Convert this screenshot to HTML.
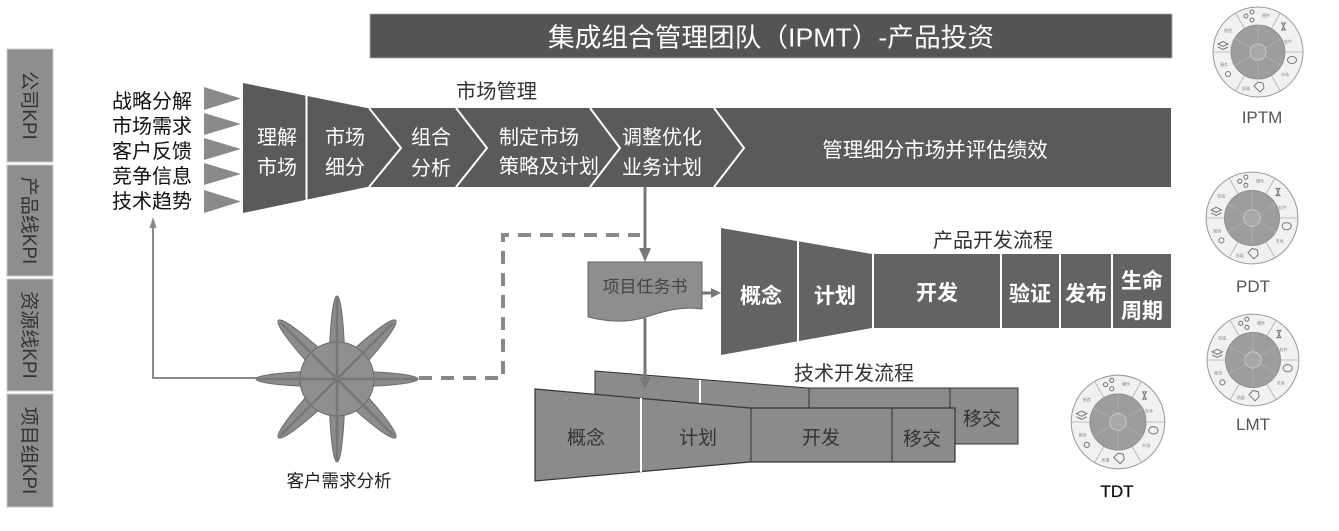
<!DOCTYPE html>
<html><head><meta charset="utf-8"><style>
html,body{margin:0;padding:0;background:#fff;}
svg{display:block;}
text{font-family:"Liberation Sans","Noto Sans CJK SC",sans-serif;}
</style></head><body>
<svg width="1339" height="531" viewBox="0 0 1339 531" xmlns="http://www.w3.org/2000/svg">
<rect x="0" y="0" width="1339" height="531" fill="#fff"/>

<!-- KPI column -->
<g fill="#8e8e8e" stroke="#c8c8c8" stroke-width="1">
<rect x="7" y="49" width="46" height="113"/>
<rect x="7" y="165" width="46" height="111"/>
<rect x="7" y="279" width="46" height="112"/>
<rect x="7" y="394" width="46" height="113"/>
</g>
<g fill="#333" font-size="19" text-anchor="middle">
<text transform="translate(23,105.5) rotate(90)">公司KPI</text>
<text transform="translate(23,220.5) rotate(90)">产品线KPI</text>
<text transform="translate(23,335) rotate(90)">资源线KPI</text>
<text transform="translate(23,450.5) rotate(90)">项目组KPI</text>
</g>

<!-- Top bar -->
<rect x="370" y="14" width="802" height="44" fill="#545454" stroke="#aaa" stroke-width="0.8"/>
<text x="771" y="46.5" font-size="26" fill="#fff" text-anchor="middle" textLength="446" lengthAdjust="spacingAndGlyphs">集成组合管理团队（IPMT）-产品投资</text>

<text x="456" y="98" font-size="20" fill="#333" textLength="81" lengthAdjust="spacingAndGlyphs">市场管理</text>

<!-- left list -->
<g font-size="20" fill="#111">
<text x="112" y="108">战略分解</text>
<text x="112" y="133">市场需求</text>
<text x="112" y="158">客户反馈</text>
<text x="112" y="183">竞争信息</text>
<text x="112" y="208">技术趋势</text>
</g>
<g fill="#8a8a8a">
<polygon points="204,87 241,98.5 204,110"/>
<polygon points="204,113 241,124 204,135"/>
<polygon points="204,138 241,149 204,160"/>
<polygon points="204,163 241,174 204,185"/>
<polygon points="204,190 241,201.5 204,213"/>
</g>

<!-- Market band -->
<polygon points="243,83 367,108 1171,108 1171,187 367,187 243,213" fill="#5a5a5a"/>
<g stroke="#fff" stroke-width="2" fill="none">
<line x1="306.5" y1="95" x2="306.5" y2="201"/>
<polyline points="369,108 401,148 369,187"/>
<polyline points="456,108 487,148 456,187"/>
<polyline points="590,108 620,148 590,187"/>
<polyline points="714,108 744,148 714,187"/>
</g>
<g font-size="20" fill="#fff" text-anchor="middle">
<text x="277" y="144">理解</text><text x="277" y="174">市场</text>
<text x="345" y="144">市场</text><text x="345" y="174">细分</text>
<text x="431" y="144">组合</text><text x="431" y="175">分析</text>
<text x="539" y="144">制定市场</text><text x="549" y="173">策略及计划</text>
<text x="662" y="144">调整优化</text><text x="662" y="174">业务计划</text>
<text x="935" y="157" font-size="20.5">管理细分市场并评估绩效</text>
</g>

<!-- arrow band -> doc -->
<line x1="645" y1="187" x2="645" y2="250" stroke="#777" stroke-width="3"/>
<polygon points="639,248 651,248 645,262" fill="#777"/>

<!-- dashed connector -->
<path d="M419,378 H503 V235 H640" fill="none" stroke="#888" stroke-width="4" stroke-dasharray="13 9"/>

<!-- star connector to left list -->
<path d="M262,378 H153 V224" fill="none" stroke="#8a8a8a" stroke-width="2"/>
<polygon points="149.5,228 156.5,228 153,217" fill="#8a8a8a"/>

<!-- star -->
<g fill="#8c8c8c" stroke="#6a6a6a" stroke-width="1">
<ellipse cx="337" cy="379" rx="81" ry="8" transform="rotate(0 337 379)"/>
<ellipse cx="337" cy="379" rx="83" ry="8" transform="rotate(90 337 379)"/>
<ellipse cx="337" cy="379" rx="83" ry="10" transform="rotate(45 337 379)"/>
<ellipse cx="337" cy="379" rx="83" ry="10" transform="rotate(-45 337 379)"/>
<circle cx="337" cy="379" r="37" fill="#8f8f8f"/>
</g>
<g stroke="#777" stroke-width="2.5">
<line x1="258" y1="379" x2="416" y2="379"/>
<line x1="337" y1="298" x2="337" y2="460"/>
<line x1="281" y1="323" x2="393" y2="435"/>
<line x1="393" y1="323" x2="281" y2="435"/>
</g>
<text x="339" y="487" font-size="17.5" fill="#222" text-anchor="middle">客户需求分析</text>

<!-- Document -->
<path d="M588,262 H702 V309 C682,306 664,311 646,317 C628,323 608,322 588,317 Z" fill="#8e8e8e" stroke="#666" stroke-width="1"/>
<text x="645" y="292.5" font-size="17" fill="#444" text-anchor="middle">项目任务书</text>
<line x1="702" y1="293" x2="713" y2="293" stroke="#777" stroke-width="3"/>
<polygon points="711,288 711,298 721,293" fill="#777"/>

<!-- Product funnel -->
<polygon points="721,228 872,254 1171,254 1171,328 872,328 721,355" fill="#636363"/>
<g stroke="#fff" stroke-width="2">
<line x1="798" y1="240" x2="798" y2="344"/>
<line x1="873" y1="253" x2="873" y2="329"/>
<line x1="1001" y1="254" x2="1001" y2="328"/>
<line x1="1060" y1="254" x2="1060" y2="328"/>
<line x1="1112" y1="254" x2="1112" y2="328"/>
</g>
<text x="993" y="247" font-size="20" fill="#333" text-anchor="middle">产品开发流程</text>
<g font-size="21" font-weight="bold" fill="#fff" text-anchor="middle">
<text x="761" y="303">概念</text>
<text x="835" y="303">计划</text>
<text x="937" y="300">开发</text>
<text x="1030" y="301">验证</text>
<text x="1086" y="301">发布</text>
<text x="1142" y="288">生命</text>
<text x="1142" y="318">周期</text>
</g>

<!-- Tech back layer -->
<polygon points="595,371 808,388 1018,388 1018,444 700,444 595,440" fill="#8b8b8b" stroke="#333" stroke-width="1"/>
<line x1="700" y1="380" x2="700" y2="404" stroke="#fff" stroke-width="2"/>
<line x1="809" y1="388" x2="809" y2="408" stroke="#333" stroke-width="1"/>
<line x1="950" y1="388" x2="950" y2="408" stroke="#333" stroke-width="1"/>
<text x="982" y="425" font-size="19" fill="#333" text-anchor="middle">移交</text>
<text x="854" y="380" font-size="20" fill="#333" text-anchor="middle">技术开发流程</text>

<!-- doc -> tech arrow -->
<line x1="645" y1="318" x2="645" y2="380" stroke="#777" stroke-width="3"/>
<polygon points="639,377 651,377 645,389" fill="#777"/>

<!-- Tech front layer -->
<polygon points="535,389 750,408 955,408 955,462 750,462 535,481" fill="#8b8b8b" stroke="#333" stroke-width="1.2"/>
<line x1="641" y1="398" x2="641" y2="472" stroke="#fff" stroke-width="2"/>
<line x1="751" y1="408" x2="751" y2="462" stroke="#333" stroke-width="1"/>
<line x1="892" y1="408" x2="892" y2="462" stroke="#333" stroke-width="1"/>
<g font-size="19" fill="#333" text-anchor="middle">
<text x="586" y="444">概念</text>
<text x="698" y="444">计划</text>
<text x="821" y="444">开发</text>
<text x="922" y="445">移交</text>
</g>

<!-- Team circles -->
<g id="c1" transform="translate(1258,52)">
<circle r="45" fill="#f1f1f1" stroke="#9a9a9a" stroke-width="1"/>
<g stroke="#b0b0b0" stroke-width="0.8">
<line x1="-13.5" y1="-23.4" x2="-22.5" y2="-39"/><line x1="13.5" y1="-23.4" x2="22.5" y2="-39"/>
<line x1="27" y1="0" x2="45" y2="0"/><line x1="13.5" y1="23.4" x2="22.5" y2="39"/>
<line x1="-13.5" y1="23.4" x2="-22.5" y2="39"/><line x1="-27" y1="0" x2="-45" y2="0"/>
</g>
<circle r="27" fill="#9d9d9d" stroke="#8a8a8a" stroke-width="0.8"/>
<g stroke="#b5b5b5" stroke-width="0.6">
<line x1="0" y1="-8" x2="0" y2="-27"/><line x1="7" y1="4" x2="23.4" y2="13.5"/><line x1="-7" y1="4" x2="-23.4" y2="13.5"/>
<line x1="7" y1="-4" x2="23.4" y2="-13.5"/><line x1="-7" y1="-4" x2="-23.4" y2="-13.5"/><line x1="0" y1="8" x2="0" y2="27"/>
</g>
<circle r="8" fill="#a8a8a8" stroke="#d0d0d0" stroke-width="0.8"/>
<g fill="none" stroke="#777" stroke-width="1">
<circle cx="-12" cy="-36" r="2"/><circle cx="-6" cy="-40" r="2"/><circle cx="-6" cy="-32" r="2"/>
<path d="M23,-29 h5 M23,-22 h5 M24,-29 l3,7 M27,-29 l-3,7"/>
<ellipse cx="34" cy="8" rx="4.5" ry="3.5"/>
<path d="M-4,34 l4,-4 l5,1 l1,5 l-4,4 z"/>
<circle cx="-30" cy="22" r="2.5"/>
<path d="M-40,-8 l5,-2.5 l5,2.5 l-5,2.5 z M-40,-5 l5,2.5 l5,-2.5"/>
</g>
<g font-size="4" fill="#888" text-anchor="middle">
<text x="8" y="-35">硬件</text><text x="30" y="-9">软件</text><text x="27" y="24">市场</text>
<text x="-12" y="38">质量</text><text x="-34" y="14">服务</text><text x="-30" y="-20">制造</text>
</g>
</g>

<g transform="translate(1252,218) scale(1.02)">
<circle r="45" fill="#f1f1f1" stroke="#9a9a9a" stroke-width="1"/>
<g stroke="#b0b0b0" stroke-width="0.8">
<line x1="-13.5" y1="-23.4" x2="-22.5" y2="-39"/><line x1="13.5" y1="-23.4" x2="22.5" y2="-39"/>
<line x1="27" y1="0" x2="45" y2="0"/><line x1="13.5" y1="23.4" x2="22.5" y2="39"/>
<line x1="-13.5" y1="23.4" x2="-22.5" y2="39"/><line x1="-27" y1="0" x2="-45" y2="0"/>
</g>
<circle r="27" fill="#9d9d9d" stroke="#8a8a8a" stroke-width="0.8"/>
<g stroke="#b5b5b5" stroke-width="0.6">
<line x1="0" y1="-8" x2="0" y2="-27"/><line x1="7" y1="4" x2="23.4" y2="13.5"/><line x1="-7" y1="4" x2="-23.4" y2="13.5"/>
<line x1="7" y1="-4" x2="23.4" y2="-13.5"/><line x1="-7" y1="-4" x2="-23.4" y2="-13.5"/><line x1="0" y1="8" x2="0" y2="27"/>
</g>
<circle r="8" fill="#a8a8a8" stroke="#d0d0d0" stroke-width="0.8"/>
<g fill="none" stroke="#777" stroke-width="1">
<circle cx="-12" cy="-36" r="2"/><circle cx="-6" cy="-40" r="2"/><circle cx="-6" cy="-32" r="2"/>
<path d="M23,-29 h5 M23,-22 h5 M24,-29 l3,7 M27,-29 l-3,7"/>
<ellipse cx="34" cy="8" rx="4.5" ry="3.5"/>
<path d="M-4,34 l4,-4 l5,1 l1,5 l-4,4 z"/>
<circle cx="-30" cy="22" r="2.5"/>
<path d="M-40,-8 l5,-2.5 l5,2.5 l-5,2.5 z M-40,-5 l5,2.5 l5,-2.5"/>
</g>
<g font-size="4" fill="#888" text-anchor="middle">
<text x="8" y="-35">硬件</text><text x="30" y="-9">软件</text><text x="27" y="24">市场</text>
<text x="-12" y="38">质量</text><text x="-34" y="14">服务</text><text x="-30" y="-20">制造</text>
</g>
</g>

<g transform="translate(1253,360) scale(1.02)">
<circle r="45" fill="#f1f1f1" stroke="#9a9a9a" stroke-width="1"/>
<g stroke="#b0b0b0" stroke-width="0.8">
<line x1="-13.5" y1="-23.4" x2="-22.5" y2="-39"/><line x1="13.5" y1="-23.4" x2="22.5" y2="-39"/>
<line x1="27" y1="0" x2="45" y2="0"/><line x1="13.5" y1="23.4" x2="22.5" y2="39"/>
<line x1="-13.5" y1="23.4" x2="-22.5" y2="39"/><line x1="-27" y1="0" x2="-45" y2="0"/>
</g>
<circle r="27" fill="#9d9d9d" stroke="#8a8a8a" stroke-width="0.8"/>
<g stroke="#b5b5b5" stroke-width="0.6">
<line x1="0" y1="-8" x2="0" y2="-27"/><line x1="7" y1="4" x2="23.4" y2="13.5"/><line x1="-7" y1="4" x2="-23.4" y2="13.5"/>
<line x1="7" y1="-4" x2="23.4" y2="-13.5"/><line x1="-7" y1="-4" x2="-23.4" y2="-13.5"/><line x1="0" y1="8" x2="0" y2="27"/>
</g>
<circle r="8" fill="#a8a8a8" stroke="#d0d0d0" stroke-width="0.8"/>
<g fill="none" stroke="#777" stroke-width="1">
<circle cx="-12" cy="-36" r="2"/><circle cx="-6" cy="-40" r="2"/><circle cx="-6" cy="-32" r="2"/>
<path d="M23,-29 h5 M23,-22 h5 M24,-29 l3,7 M27,-29 l-3,7"/>
<ellipse cx="34" cy="8" rx="4.5" ry="3.5"/>
<path d="M-4,34 l4,-4 l5,1 l1,5 l-4,4 z"/>
<circle cx="-30" cy="22" r="2.5"/>
<path d="M-40,-8 l5,-2.5 l5,2.5 l-5,2.5 z M-40,-5 l5,2.5 l5,-2.5"/>
</g>
<g font-size="4" fill="#888" text-anchor="middle">
<text x="8" y="-35">硬件</text><text x="30" y="-9">软件</text><text x="27" y="24">市场</text>
<text x="-12" y="38">质量</text><text x="-34" y="14">服务</text><text x="-30" y="-20">制造</text>
</g>
</g>

<g transform="translate(1118,422) scale(1.04)">
<circle r="45" fill="#f1f1f1" stroke="#9a9a9a" stroke-width="1"/>
<g stroke="#b0b0b0" stroke-width="0.8">
<line x1="-13.5" y1="-23.4" x2="-22.5" y2="-39"/><line x1="13.5" y1="-23.4" x2="22.5" y2="-39"/>
<line x1="27" y1="0" x2="45" y2="0"/><line x1="13.5" y1="23.4" x2="22.5" y2="39"/>
<line x1="-13.5" y1="23.4" x2="-22.5" y2="39"/><line x1="-27" y1="0" x2="-45" y2="0"/>
</g>
<circle r="27" fill="#9d9d9d" stroke="#8a8a8a" stroke-width="0.8"/>
<g stroke="#b5b5b5" stroke-width="0.6">
<line x1="0" y1="-8" x2="0" y2="-27"/><line x1="7" y1="4" x2="23.4" y2="13.5"/><line x1="-7" y1="4" x2="-23.4" y2="13.5"/>
<line x1="7" y1="-4" x2="23.4" y2="-13.5"/><line x1="-7" y1="-4" x2="-23.4" y2="-13.5"/><line x1="0" y1="8" x2="0" y2="27"/>
</g>
<circle r="8" fill="#a8a8a8" stroke="#d0d0d0" stroke-width="0.8"/>
<g fill="none" stroke="#777" stroke-width="1">
<circle cx="-12" cy="-36" r="2"/><circle cx="-6" cy="-40" r="2"/><circle cx="-6" cy="-32" r="2"/>
<path d="M23,-29 h5 M23,-22 h5 M24,-29 l3,7 M27,-29 l-3,7"/>
<ellipse cx="34" cy="8" rx="4.5" ry="3.5"/>
<path d="M-4,34 l4,-4 l5,1 l1,5 l-4,4 z"/>
<circle cx="-30" cy="22" r="2.5"/>
<path d="M-40,-8 l5,-2.5 l5,2.5 l-5,2.5 z M-40,-5 l5,2.5 l5,-2.5"/>
</g>
<g font-size="4" fill="#888" text-anchor="middle">
<text x="8" y="-35">硬件</text><text x="30" y="-9">软件</text><text x="27" y="24">市场</text>
<text x="-12" y="38">质量</text><text x="-34" y="14">服务</text><text x="-30" y="-20">制造</text>
</g>
</g>

<g font-size="17" fill="#555" text-anchor="middle">
<text x="1262" y="123">IPTM</text>
<text x="1253" y="292">PDT</text>
<text x="1253" y="430">LMT</text>
</g>
<text x="1117" y="497" font-size="17" fill="#111" text-anchor="middle" stroke="#111" stroke-width="0.3">TDT</text>
</svg>
</body></html>
